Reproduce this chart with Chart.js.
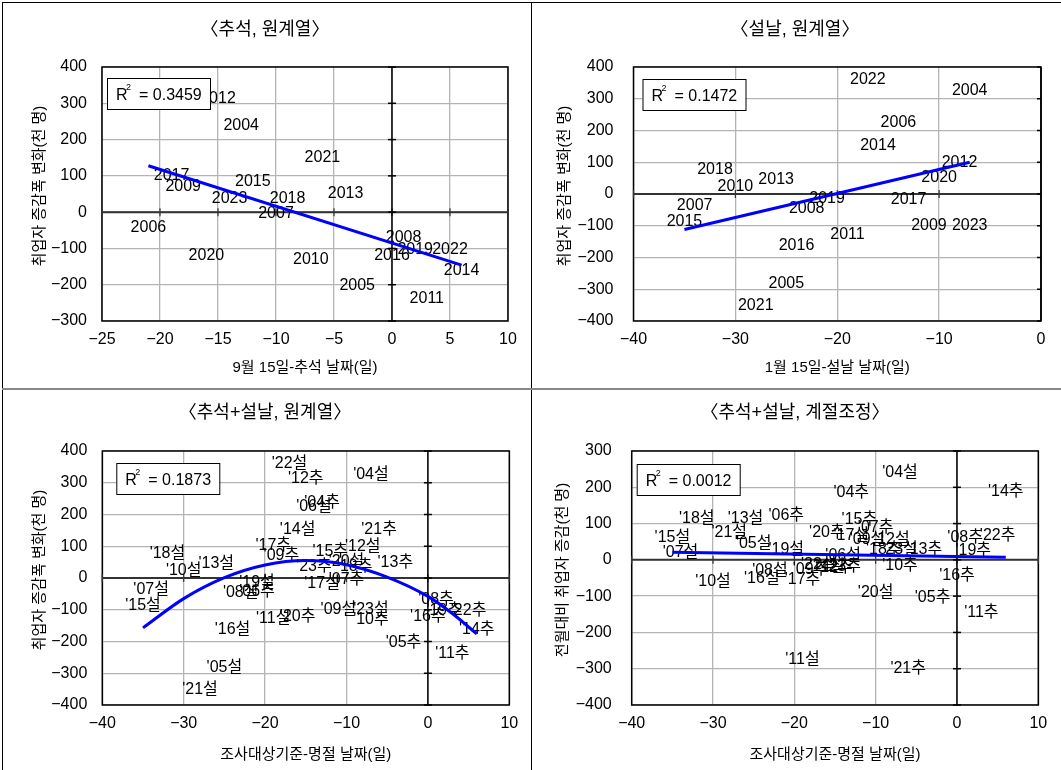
<!DOCTYPE html>
<html>
<head>
<meta charset="utf-8">
<script src="https://cdn.jsdelivr.net/npm/chart.js@4.4.1/dist/chart.umd.min.js"></script>
<style>
  body { margin: 0; background: #fff; }
  #wrap { position: relative; width: 1061px; height: 770px; overflow: hidden; background: #fff; }
  canvas { position: absolute; }
  .ln { position: absolute; background: #000; }
</style>
</head>
<body>
<div id="wrap">
  <canvas id="c1" width="531" height="388" style="left:0;top:0"></canvas>
  <canvas id="c2" width="529" height="388" style="left:532px;top:0"></canvas>
  <canvas id="c3" width="531" height="379" style="left:0;top:391px"></canvas>
  <canvas id="c4" width="529" height="379" style="left:532px;top:391px"></canvas>
  <div class="ln" style="left:2px;top:2px;width:1059px;height:1px"></div>
  <div class="ln" style="left:2px;top:2px;width:1px;height:768px"></div>
  <div class="ln" style="left:531px;top:2px;width:1px;height:768px"></div>
  <div class="ln" style="left:2px;top:388px;width:1059px;height:2px;background:#888"></div>
</div>
<script>
// 연도
const years = [2004, 2005, 2006, 2007, 2008, 2009, 2010, 2011, 2012, 2013,
               2014, 2015, 2016, 2017, 2018, 2019, 2020, 2021, 2022, 2023];

// 추석: 9월 15일-추석 날짜(일), 원계열, 계절조정
const chuseokDays = [-13, -3, -21, -10, 1, -18, -7, 3, -15, -4, 6, -12, 0, -19, -9, 2, -16, -6, 5, -14];
const chuseokRaw  = [238, -203, -43, -5, -69, 70, -130, -238, 313, 50, -162, 84, -121, 102, 37, -104, -121, 151, -102, 37];
const chuseokSA   = [185, -104, 121, 89, 60, -28, -17, -145, -20, 29, 188, 112, -44, -55, 29, 25, 75, -301, 66, -19];

// 설날: 1월 15일-설날 날짜(일), 원계열, 계절조정
const seollalDays = [-7, -25, -14, -34, -23, -11, -30, -19, -8, -26, -16, -35, -24, -13, -32, -21, -10, -28, -17, -7];
const seollalRaw  = [325, -282, 224, -38, -45, -101, 24, -127, 98, 46, 152, -88, -164, -17, 76, -15, 51, -353, 360, -101];
const seollalSA   = [240, 45, 11, 20, -30, 57, -60, -274, 57, 115, -18, 60, -53, 66, 115, 27, -90, 75, -12, 29];

// 추세선
const trend1X = [-21, 6],   trend1Y = [128, -146];
const trend2X = [-35, -7],  trend2Y = [-112, 100];
const trend3X = [-35, -30, -25, -20, -15, -10, -5, 0, 3, 6];
const trend3Y = [-157, -65, 1, 41, 55, 42, 3, -58, -112, -176];
const trend4X = [-35, 6],   trend4Y = [21, 7];

// R² 값
const r2 = ['0.3459', '0.1472', '0.1873', '0.0012'];

// 축 범위 [min, max, step]
const p1X = [-25, 10, 5],  p1Y = [-300, 400, 100];
const p2X = [-40, 0, 10],  p2Y = [-400, 400, 100];
const p3X = [-40, 10, 10], p3Y = [-400, 400, 100];
const p4X = [-40, 10, 10], p4Y = [-400, 300, 100];

const FONT = '"Liberation Sans", "Noto Sans CJK KR", sans-serif';
Chart.defaults.font.family = FONT;
Chart.defaults.color = '#000';

const pts = (xs, ys) => xs.map((v, i) => ({ x: v, y: ys[i] }));
const short = (y, s) => "'" + String(y).slice(2) + s;

const panelPlugin = {
  id: 'panel',
  beforeDatasetsDraw(chart) {
    const { ctx, chartArea: a, scales: { x, y } } = chart;
    const line = (x1, y1, x2, y2) => { ctx.beginPath(); ctx.moveTo(x1, y1); ctx.lineTo(x2, y2); ctx.stroke(); };
    ctx.save();
    ctx.strokeStyle = '#000';
    ctx.lineWidth = 1.5;
    ctx.strokeRect(a.left, a.top, a.right - a.left, a.bottom - a.top);

    // 가로축 (y=0)
    const y0 = y.getPixelForValue(0);
    ctx.strokeStyle = '#333';
    ctx.lineWidth = 2;
    line(a.left, y0, a.right, y0);
    ctx.lineWidth = 1.2;
    x.ticks.forEach(t => {
      const px = x.getPixelForValue(t.value);
      line(px, y0 - 4, px, y0 + 4);
    });

    // 세로축 (x=0)
    const x0 = x.getPixelForValue(0);
    ctx.strokeStyle = '#000';
    ctx.lineWidth = 1.5;
    line(x0, a.top, x0, a.bottom);
    y.ticks.forEach(t => {
      const py = y.getPixelForValue(t.value);
      line(x0 - 4, py, Math.min(x0 + 4, a.right), py);
    });

    // 데이터 레이블
    ctx.font = '16px ' + FONT;
    ctx.fillStyle = '#000';
    ctx.textAlign = 'center';
    ctx.textBaseline = 'middle';
    chart.data.datasets.forEach(ds => {
      if (!ds.labels) return;
      ds.data.forEach((p, i) => {
        ctx.fillText(ds.labels[i], x.getPixelForValue(p.x), y.getPixelForValue(p.y));
      });
    });
    ctx.restore();
  },
  afterDatasetsDraw(chart) {
    const { ctx, chartArea: a } = chart;
    const o = chart.options.plugins.panel;
    ctx.save();
    const bx = a.left + o.box[0], by = a.top + o.box[1];
    ctx.fillStyle = '#fff';
    ctx.fillRect(bx, by, 103, 31);
    ctx.strokeStyle = '#000';
    ctx.lineWidth = 1;
    ctx.strokeRect(bx + 0.5, by + 0.5, 103, 31);
    ctx.fillStyle = '#000';
    ctx.textBaseline = 'alphabetic';
    ctx.textAlign = 'left';
    ctx.font = '16px ' + FONT;
    ctx.fillText('R', bx + 9, by + 22);
    ctx.font = '9px ' + FONT;
    ctx.fillText('2', bx + 19, by + 12);
    ctx.font = '16px ' + FONT;
    ctx.fillText('= ' + o.r2, bx + 32, by + 22);
    ctx.restore();
  },
  afterDraw(chart) {
    const { ctx, chartArea: a } = chart;
    const o = chart.options.plugins.panel;
    ctx.save();
    ctx.fillStyle = '#000';
    ctx.textAlign = 'center';
    ctx.textBaseline = 'middle';
    ctx.font = '18px ' + FONT;
    ctx.fillText(o.title, o.titleX, o.titleY);
    ctx.font = '15px ' + FONT;
    ctx.fillText(o.xTitle, (a.left + a.right) / 2, o.xTitleY);
    ctx.translate(o.yTitleX, (a.top + a.bottom) / 2 - 8);
    ctx.rotate(-Math.PI / 2);
    ctx.fillText(o.yTitle, 0, 0);
    ctx.restore();
  }
};

function makeChart(id, opt) {
  const labelSets = opt.sets.map(s => ({
    type: 'scatter',
    data: pts(s.xs, s.ys),
    labels: s.labels,
    pointRadius: 0,
    pointHoverRadius: 0
  }));
  const trend = {
    type: 'scatter',
    data: pts(opt.trendX, opt.trendY),
    showLine: true,
    borderColor: '#0000ff',
    borderWidth: 3,
    pointRadius: 0,
    tension: opt.curve ? 0.4 : 0,
    cubicInterpolationMode: opt.curve ? 'monotone' : 'default'
  };
  new Chart(document.getElementById(id), {
    type: 'scatter',
    data: { datasets: [...labelSets, trend] },
    options: {
      responsive: false,
      animation: false,
      devicePixelRatio: 1,
      layout: { padding: { left: 0, top: opt.top, right: opt.right, bottom: 0 } },
      plugins: {
        legend: { display: false },
        tooltip: { enabled: false },
        panel: opt.panel
      },
      scales: {
        x: {
          type: 'linear',
          min: opt.xr[0], max: opt.xr[1],
          ticks: {
            stepSize: opt.xr[2],
            padding: 9,
            font: { size: 16 },
            color: '#000',
            callback: v => String(v).replace('-', '\u2212')
          },
          grid: { color: '#b4b4b4', lineWidth: 1.3, drawTicks: false },
          border: { display: false },
          afterFit: s => { s.height = opt.bottom; }
        },
        y: {
          type: 'linear',
          min: opt.yr[0], max: opt.yr[1],
          ticks: {
            stepSize: opt.yr[2],
            padding: opt.yPad,
            font: { size: 16 },
            color: '#000',
            callback: v => String(v).replace('-', '\u2212')
          },
          grid: { color: '#b4b4b4', lineWidth: 1.3, drawTicks: false },
          border: { display: false },
          afterFit: s => { s.width = opt.left; }
        }
      }
    },
    plugins: [panelPlugin]
  });
}

makeChart('c1', {
  sets: [{ xs: chuseokDays, ys: chuseokRaw, labels: years.map(String) }],
  trendX: trend1X, trendY: trend1Y,
  xr: p1X, yr: p1Y,
  left: 102, right: 23, top: 67, bottom: 67, yPad: 15,
  panel: { title: '〈추석, 원계열〉', titleX: 265, titleY: 30,
           xTitle: '9월 15일-추석 날짜(일)', xTitleY: 368,
           yTitle: '취업자 증감폭 변화(천 명)', yTitleX: 40,
           box: [5, 11], r2: r2[0] }
});

makeChart('c2', {
  sets: [{ xs: seollalDays, ys: seollalRaw, labels: years.map(String) }],
  trendX: trend2X, trendY: trend2Y,
  xr: p2X, yr: p2Y,
  left: 101.5, right: 20, top: 67, bottom: 67, yPad: 20,
  panel: { title: '〈설날, 원계열〉', titleX: 263, titleY: 30,
           xTitle: '1월 15일-설날 날짜(일)', xTitleY: 368,
           yTitle: '취업자 증감폭 변화(천 명)', yTitleX: 33,
           box: [9, 12], r2: r2[1] }
});

makeChart('c3', {
  sets: [
    { xs: seollalDays, ys: seollalRaw, labels: years.map(y => short(y, '설')) },
    { xs: chuseokDays, ys: chuseokRaw, labels: years.map(y => short(y, '추')) }
  ],
  trendX: trend3X, trendY: trend3Y, curve: true,
  xr: p3X, yr: p3Y,
  left: 102.3, right: 21.7, top: 60, bottom: 65, yPad: 15,
  panel: { title: '〈추석+설날, 원계열〉', titleX: 265, titleY: 22,
           xTitle: '조사대상기준-명절 날짜(일)', xTitleY: 364,
           yTitle: '취업자 증감폭 변화(천 명)', yTitleX: 40,
           box: [14, 12], r2: r2[2] }
});

makeChart('c4', {
  sets: [
    { xs: seollalDays, ys: seollalSA, labels: years.map(y => short(y, '설')) },
    { xs: chuseokDays, ys: chuseokSA, labels: years.map(y => short(y, '추')) }
  ],
  trendX: trend4X, trendY: trend4Y,
  xr: p4X, yr: p4Y,
  left: 99.7, right: 22.7, top: 60, bottom: 65, yPad: 20,
  panel: { title: '〈추석+설날, 계절조정〉', titleX: 263, titleY: 22,
           xTitle: '조사대상기준-명절 날짜(일)', xTitleY: 364,
           yTitle: '전월대비 취업자 증감(천 명)', yTitleX: 31,
           box: [5, 13], r2: r2[3] }
});
</script>
</body>
</html>
